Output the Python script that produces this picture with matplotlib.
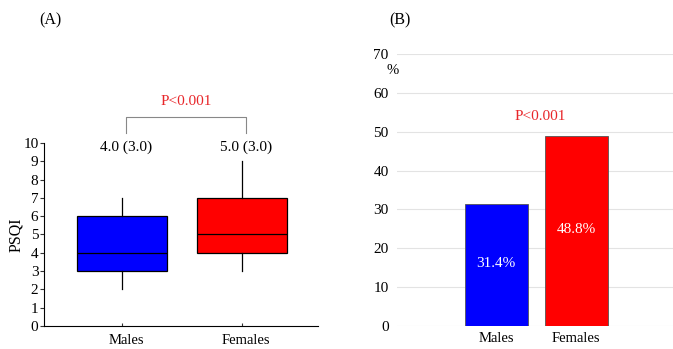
import matplotlib.pyplot as plt
import matplotlib.transforms as mtransforms

# Panel A: PSQI box plots
groups = ['Males', 'Females']
psqi_med = [4, 5]
psqi_q1 = [3, 4]
psqi_q3 = [6, 7]
psqi_lo = [2, 3]
psqi_hi = [7, 9]
psqi_labels = ['4.0 (3.0)', '5.0 (3.0)']
box_colors = ['#0000ff', '#ff0000']

# Panel B: percentage bars
pct_values = [31.4, 48.8]
pct_labels = ['31.4%', '48.8%']

plt.rcParams['font.family'] = ['Liberation Serif', 'DejaVu Serif']
plt.rcParams['font.size'] = 10.5

fig = plt.figure(figsize=(6.73, 3.49), dpi=100)

# ---- (A)
ax1 = fig.add_axes([44 / 673, 0.0659, 274 / 673, 0.5244])
stats = []
for i, g in enumerate(groups):
    stats.append(dict(med=psqi_med[i], q1=psqi_q1[i], q3=psqi_q3[i],
                      whislo=psqi_lo[i], whishi=psqi_hi[i], fliers=[], label=g))
bp = ax1.bxp(stats, positions=[1, 2], widths=0.75, showcaps=False,
             patch_artist=True, showfliers=False,
             boxprops=dict(edgecolor='black', linewidth=0.9),
             medianprops=dict(color='black', linewidth=0.9),
             whiskerprops=dict(color='black', linewidth=0.9))
for patch, c in zip(bp['boxes'], box_colors):
    patch.set_facecolor(c)

ax1.set_xlim(0.35, 2.63)
ax1.set_ylim(0, 10)
ax1.set_yticks(range(0, 11))
ax1.spines['top'].set_visible(False)
ax1.spines['right'].set_visible(False)
ax1.tick_params(axis='y', direction='out', length=3, width=0.8, pad=1, color='#333333',
                labelsize=11)
ax1.tick_params(axis='x', direction='in', length=2, width=0.8, pad=6, color='#333333',
                labelsize=10.5)
ax1.set_ylabel('PSQI', fontsize=11.5, labelpad=-1)

# labels sit slightly right of the tick marks in the original
shift = mtransforms.ScaledTranslation(4 / 100, 0, fig.dpi_scale_trans)
for lbl in ax1.get_xticklabels():
    lbl.set_transform(lbl.get_transform() + shift)

for i, lab in enumerate(psqi_labels):
    ax1.text(i + 1.03, 9.75, lab, ha='center', va='center', fontsize=11, clip_on=False)

ax1.plot([1.03, 1.03, 2.03, 2.03], [10.55, 11.42, 11.42, 10.55], color='#888888', lw=0.8,
         clip_on=False)
ax1.text(1.53, 12.25, 'P<0.001', color='#e8262a', ha='center', va='center', fontsize=11,
         clip_on=False)
fig.text(0.058, 0.943, '(A)', fontsize=11.5, ha='left', va='center')

# ---- (B)
ax2 = fig.add_axes([0.590, 0.0659, 0.41, 0.7794])
bars = ax2.bar([0, 1], pct_values, width=0.79, color=box_colors, edgecolor='#555555',
               linewidth=0.6, zorder=3)
for b, lab, v in zip(bars, pct_labels, pct_values):
    ax2.text(b.get_x() + b.get_width() / 2, v / 2 + 0.4, lab, ha='center', va='center',
             color='white', fontsize=11, zorder=4)
ax2.text(0.55, 53.8, 'P<0.001', color='#e8262a', ha='center', va='center', fontsize=11)
ax2.set_xlim(-1.24, 2.21)
ax2.set_ylim(0, 70)
ax2.set_yticks(range(0, 71, 10))
ax2.set_xticks([0, 1])
ax2.set_xticklabels(groups)
ax2.grid(axis='y', color='#e3e3e3', linewidth=0.8, zorder=0)
for s in ax2.spines.values():
    s.set_visible(False)
ax2.tick_params(length=0, pad=6, labelsize=11)
ax2.tick_params(axis='x', pad=4, labelsize=10.5)
ax2.text(-1.29, 65.8, '%', ha='center', va='center', fontsize=10.5)
fig.text(0.578, 0.943, '(B)', fontsize=11.5, ha='left', va='center')

fig.savefig('out.png', dpi=100)
